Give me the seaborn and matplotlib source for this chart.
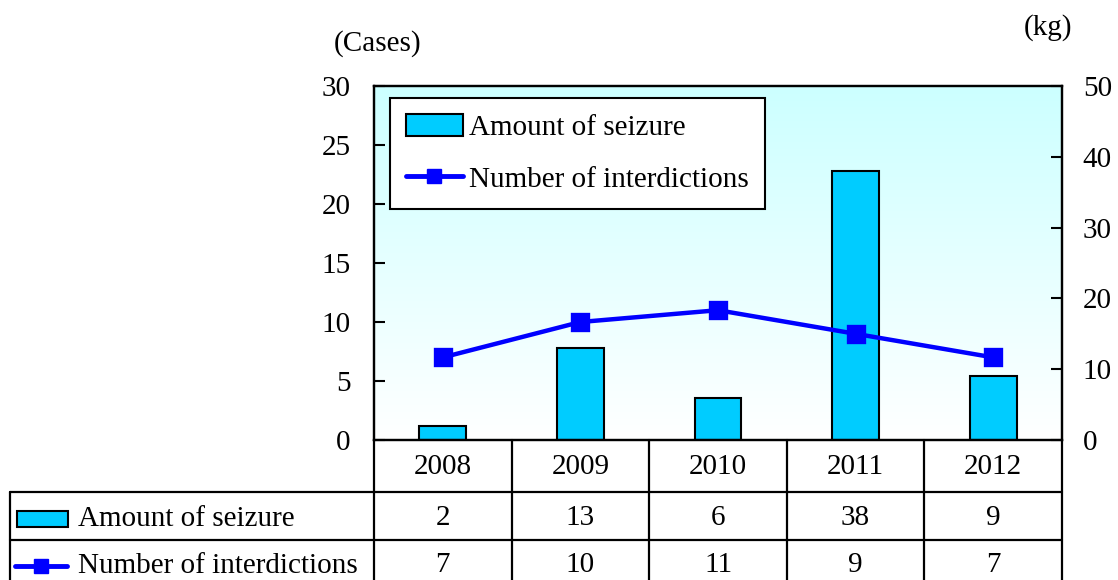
import numpy as np
import pandas as pd
import seaborn as sns
import matplotlib.pyplot as plt
import matplotlib.transforms as mtransforms
from matplotlib.patches import Rectangle, Patch
from matplotlib.lines import Line2D

# datos
years = ["2008", "2009", "2010", "2011", "2012"]
seizure_kg = [2, 13, 6, 38, 9]
interdictions = [7, 10, 11, 9, 7]
row_labels = ["Amount of seizure", "Number of interdictions"]

bar_color = "#00CCFF"
line_color = "#0000FF"
fs = 21

sns.set_theme(style="white")
plt.rcParams["font.family"] = ["Liberation Serif", "DejaVu Serif"]
plt.rcParams["font.size"] = fs
plt.rcParams["text.color"] = "black"
plt.rcParams["ytick.color"] = "black"
plt.rcParams["ytick.labelcolor"] = "black"

W, H = 1118, 580
fig = plt.figure(figsize=(W / 100, H / 100), dpi=100)
ax = fig.add_axes([374 / W, 1 - 440 / H, (1062 - 374) / W, (440 - 86) / H])
ax2 = ax.twinx()

# ax2 (kg) va detras, con fondo y barras
ax.set_zorder(ax2.get_zorder() + 1)
ax.patch.set_visible(False)

grad = np.linspace(0, 1, 256).reshape(-1, 1)
top = np.array([0xCC, 0xFF, 0xFF]) / 255
img = top[None, None, :] * (1 - grad[:, :, None]) + np.ones(3)[None, None, :] * grad[:, :, None]
ax2.imshow(img, extent=[0, 1, 0, 1], transform=ax2.transAxes, aspect="auto", zorder=0)

df = pd.DataFrame({"year": years, "kg": seizure_kg, "cases": interdictions})
sns.barplot(data=df, x="year", y="kg", color=bar_color, saturation=1, width=0.34,
            edgecolor="black", linewidth=1.5, ax=ax2, zorder=2)
sns.pointplot(data=df, x="year", y="cases", color=line_color, markers="s",
              markersize=11, linewidth=3.2, ax=ax)

ax.set_xlim(-0.5, len(years) - 0.5)
ax.set_ylim(0, 30)
ax2.set_ylim(0, 50)
ax.set_yticks(range(0, 31, 5))
ax2.set_yticks(range(0, 51, 10))
ax.set_xticks([])
ax2.set_xticks([])
ax.set_xlabel("")
ax.set_ylabel("")
ax2.set_xlabel("")
ax2.set_ylabel("")
ax.tick_params(axis="y", direction="in", length=8, width=1.5, pad=17, labelsize=fs, left=True)
ax2.tick_params(axis="y", direction="in", length=8, width=1.5, pad=15, labelsize=fs, right=True)
for a in (ax, ax2):
    for s in a.spines.values():
        s.set_color("black")
        s.set_linewidth(1.6)

leg = ax.legend(handles=[Patch(facecolor=bar_color, edgecolor="black", linewidth=1.5, label=row_labels[0]),
                         Line2D([], [], color=line_color, lw=3.5, marker="s", markersize=10, label=row_labels[1])],
                loc="upper left", bbox_to_anchor=(0.023, 0.966), borderaxespad=0, fancybox=False,
                framealpha=1, edgecolor="black", fontsize=fs, handlelength=1.95, handleheight=0.8,
                borderpad=0.55, labelspacing=0.82, handletextpad=0.22)
leg.get_frame().set_linewidth(1.5)

fig.text(378 / W, 1 - 44 / H, "(Cases)", ha="center", va="center", fontsize=fs)
fig.text(1048 / W, 1 - 28 / H, "(kg)", ha="center", va="center", fontsize=fs)

# tabla de datos
tr = mtransforms.blended_transform_factory(ax.transData, fig.transFigure)
fy = lambda p: 1 - p / H
lw = 1.6
n = len(years)
edges = np.arange(n + 1) - 0.5
for e in edges:
    fig.add_artist(Line2D([e, e], [fy(440), fy(585)], transform=tr, color="black", lw=lw))
for yy in (492, 540):
    fig.add_artist(Line2D([10 / W, 1062 / W], [fy(yy), fy(yy)], transform=fig.transFigure, color="black", lw=lw))
fig.add_artist(Line2D([10 / W, 10 / W], [fy(492), fy(585)], transform=fig.transFigure, color="black", lw=lw))

for i, yr in enumerate(years):
    fig.text(i, fy(467), yr, transform=tr, ha="center", va="center", fontsize=fs)
    fig.text(i, fy(518), str(seizure_kg[i]), transform=tr, ha="center", va="center", fontsize=fs)
    fig.text(i, fy(565), str(interdictions[i]), transform=tr, ha="center", va="center", fontsize=fs)

fig.add_artist(Rectangle((17 / W, fy(527)), 51 / W, 16 / H, transform=fig.transFigure,
                         facecolor=bar_color, edgecolor="black", lw=1.5))
fig.add_artist(Line2D([15 / W, 67 / W], [fy(566), fy(566)], transform=fig.transFigure,
                      color=line_color, lw=3.5))
fig.add_artist(Line2D([41 / W], [fy(566)], transform=fig.transFigure, color=line_color,
                      marker="s", markersize=10, lw=0))
fig.text(78 / W, fy(519), row_labels[0], ha="left", va="center", fontsize=fs)
fig.text(78 / W, fy(566), row_labels[1], ha="left", va="center", fontsize=fs)

fig.savefig("out.png", dpi=100)
